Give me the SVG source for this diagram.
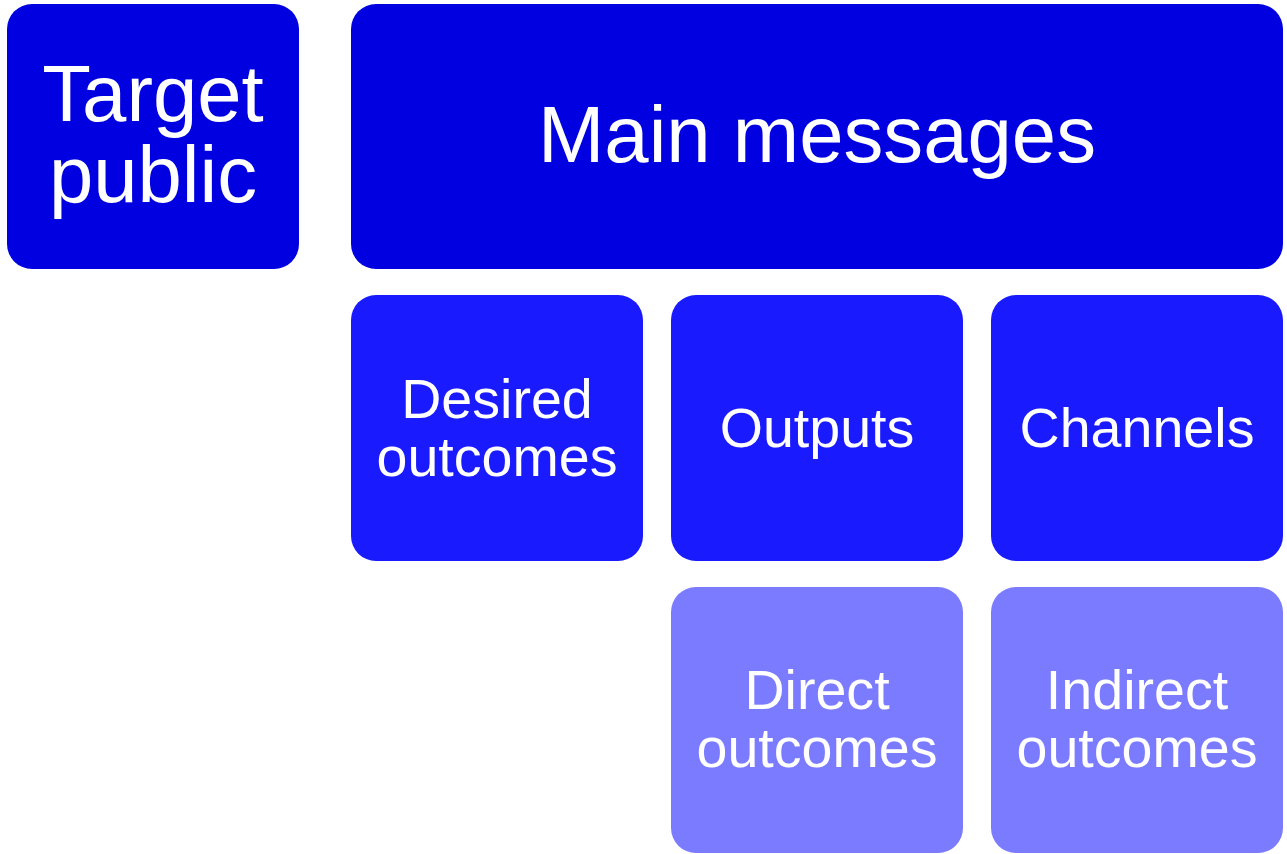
<svg xmlns="http://www.w3.org/2000/svg" width="1287" height="854" viewBox="0 0 1287 854">
<style>
.t{font-family:"Liberation Sans",Arial,sans-serif;fill:#fff;text-anchor:middle}
.big{font-size:79.7px}
.mid{font-size:55.6px}
.c1{fill:#0000E0}
.c2{fill:#1A1AFF}
.c3{fill:#7B7BFF}
</style>
<rect width="1287" height="854" fill="#fff"/>
<g id="target-public"><rect class="c1" x="7" y="4" width="292" height="265" rx="25"/><text class="t big" x="153" y="121">Target</text><text class="t big" x="153" y="202">public</text></g>
<g id="main-messages"><rect class="c1" x="351" y="4" width="932" height="265" rx="25"/><text class="t big" x="817" y="162">Main messages</text></g>
<g id="desired-outcomes"><rect class="c2" x="351" y="295" width="292" height="266" rx="25"/><text class="t mid" x="497" y="418">Desired</text><text class="t mid" x="497" y="476">outcomes</text></g>
<g id="outputs"><rect class="c2" x="671" y="295" width="292" height="266" rx="25"/><text class="t mid" x="817" y="447">Outputs</text></g>
<g id="channels"><rect class="c2" x="991" y="295" width="292" height="266" rx="25"/><text class="t mid" x="1137" y="447">Channels</text></g>
<g id="direct-outcomes"><rect class="c3" x="671" y="587" width="292" height="266" rx="25"/><text class="t mid" x="817" y="709">Direct</text><text class="t mid" x="817" y="767">outcomes</text></g>
<g id="indirect-outcomes"><rect class="c3" x="991" y="587" width="292" height="266" rx="25"/><text class="t mid" x="1137" y="709">Indirect</text><text class="t mid" x="1137" y="767">outcomes</text></g>
<g id="connectors"></g>
</svg>
